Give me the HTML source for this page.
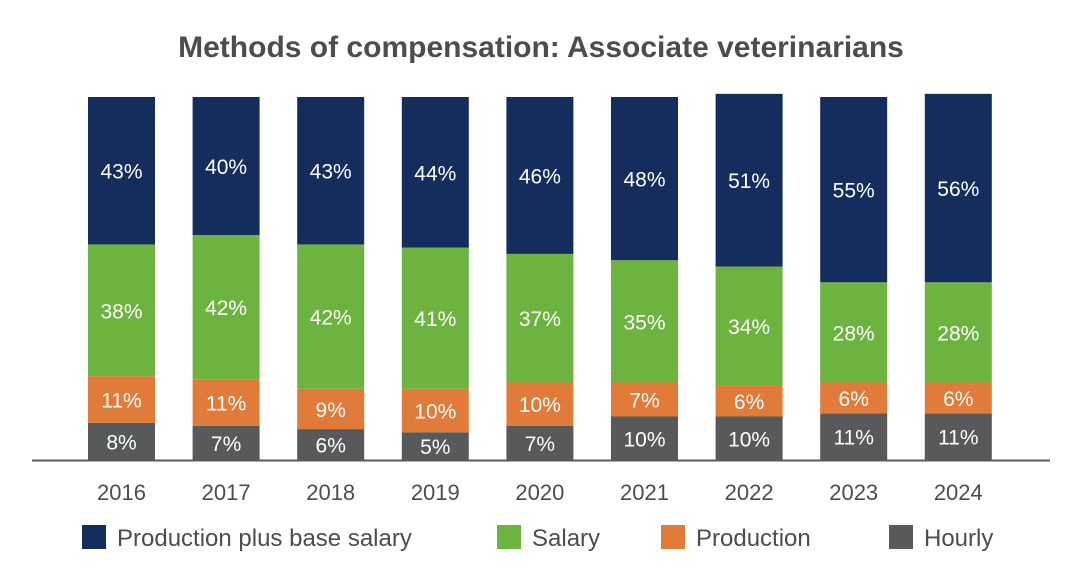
<!DOCTYPE html>
<html><head><meta charset="utf-8"><style>
body{margin:0;background:#fff;width:1082px;height:570px;overflow:hidden;font-family:"Liberation Sans",sans-serif}
</style></head><body>
<svg width="1082" height="570">
<text x="541" y="57" text-anchor="middle" font-size="30" font-weight="bold" fill="#4d4d4f">Methods of compensation: Associate veterinarians</text>
<g id="bars"></g>
<line x1="32" y1="460.5" x2="1050" y2="460.5" stroke="#58595b" stroke-width="2"/>
<g id="legend"></g>
</svg>
<script>
const years=["2016","2017","2018","2019","2020","2021","2022","2023","2024"];
const hourly=[8,7,6,5,7,10,10,11,11];
const production=[11,11,9,10,10,7,6,6,6];
const salary=[38,42,42,41,37,35,34,28,28];
const prodPlusBase=[43,40,43,44,46,48,51,55,56];
const seriesNames=["Hourly","Production","Salary","Production plus base salary"];
const colors=["#58595b","#e07b39","#6db33f","#142d5c"];
const NS="http://www.w3.org/2000/svg";
const base=460, pxPer=3.15, minPx=12, x0=88, step=104.6, bw=67;
const yScale=v=>minPx+v*pxPer;
const xScale=i=>x0+i*step;
const g=document.getElementById('bars');
const series=[hourly,production,salary,prodPlusBase];
years.forEach((yr,i)=>{
  let y=base;
  series.forEach((s,k)=>{
    const h=yScale(s[i]);
    const r=document.createElementNS(NS,'rect');
    r.setAttribute('x',xScale(i));r.setAttribute('y',y-h);r.setAttribute('width',bw);r.setAttribute('height',h);r.setAttribute('fill',colors[k]);
    
    
    g.appendChild(r);
    const t=document.createElementNS(NS,'text');
    t.setAttribute('x',xScale(i)+bw/2);t.setAttribute('y',y-h/2+8);t.setAttribute('text-anchor','middle');
    t.setAttribute('font-size','21');t.setAttribute('fill','#fff');
    t.textContent=s[i]+'%';
    
    
    g.appendChild(t);
    y-=h;
  });
  const xl=document.createElementNS(NS,'text');
  xl.setAttribute('x',xScale(i)+bw/2);xl.setAttribute('y',500);xl.setAttribute('text-anchor','middle');
  xl.setAttribute('font-size','22');xl.setAttribute('fill','#4d4d4f');
  xl.textContent=yr;
  
  
  g.appendChild(xl);
});
const lg=document.getElementById('legend');
const legItems=[[3,82],[2,497],[1,661],[0,889]];
legItems.forEach(([k,x])=>{
  const r=document.createElementNS(NS,'rect');
  r.setAttribute('x',x);r.setAttribute('y',525);r.setAttribute('width',24);r.setAttribute('height',24);r.setAttribute('fill',colors[k]);
  
  
  lg.appendChild(r);
  const t=document.createElementNS(NS,'text');
  t.setAttribute('x',x+35);t.setAttribute('y',546);t.setAttribute('font-size','24');t.setAttribute('fill','#4d4d4f');
  t.textContent=seriesNames[k];
  
  
  lg.appendChild(t);
});
</script>
</body></html>
